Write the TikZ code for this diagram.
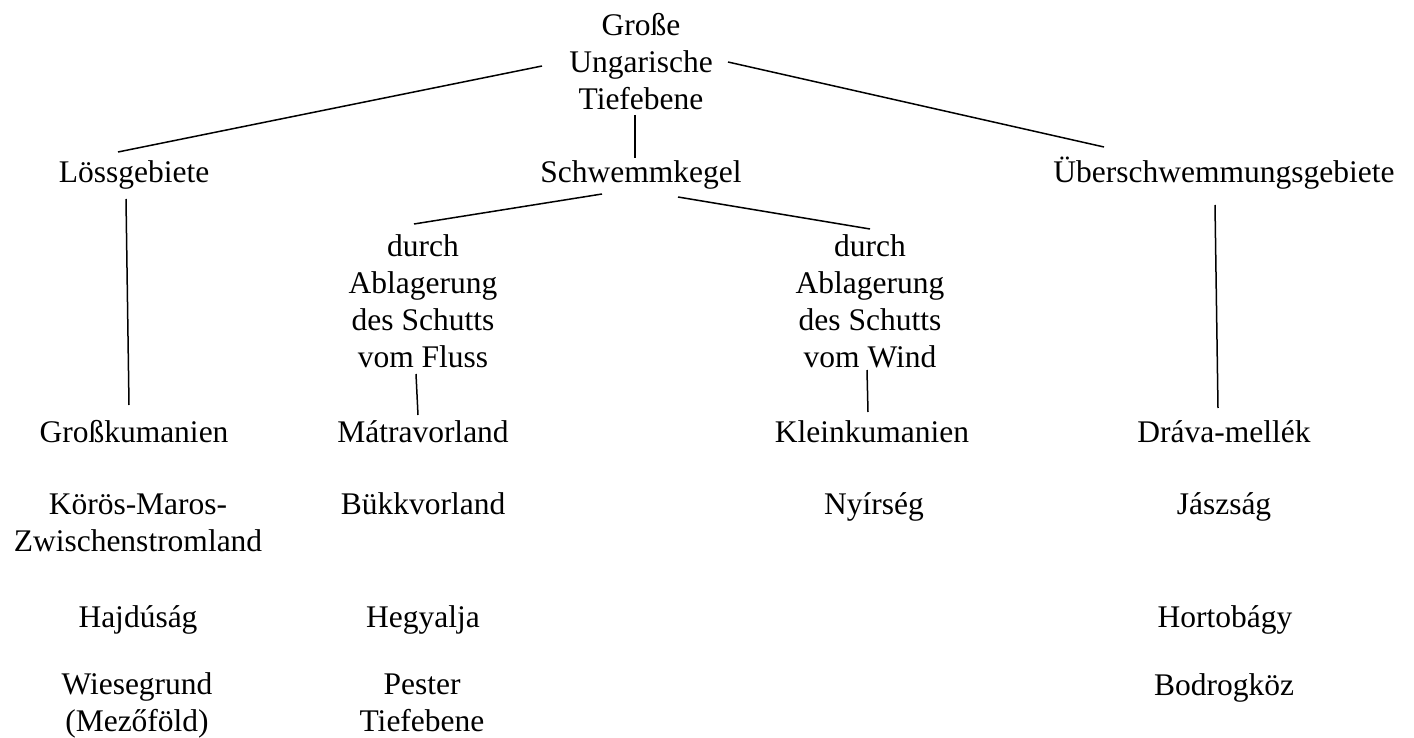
\documentclass[tikz,border=0pt]{standalone}
\usepackage{fontspec}
\setmainfont{Liberation Serif}

\begin{document}
\begin{tikzpicture}[x=1pt, y=-1pt,
    place/.style={anchor=base, inner sep=0pt, align=center,
      font=\fontsize{31.5}{37}\selectfont},
    link/.style={line width=1.5pt}]
    \useasboundingbox (0,0) rectangle (1414,738);

    % upper levels (base = last line)
    \node [place] (top) at (641,110) {Große\\Ungarische\\Tiefebene};
    \node [place] (loess) at (134,183) {Lössgebiete};
    \node [place] (schwemm) at (641,183) {Schwemmkegel};
    \node [place] (ueber) at (1224,183) {Überschwemmungsgebiete};

    \node [place] (fluss) at (423,367) {durch\\Ablagerung\\des Schutts\\vom Fluss};
    \node [place] (wind) at (870,367) {durch\\Ablagerung\\des Schutts\\vom Wind};

    % regions
    \node [place] (gross) at (134,442) {Großkumanien};
    \node [place] (koeroes) at (138,551) {Körös-Maros-\\Zwischenstromland};
    \node [place] (hajdu) at (138,627) {Hajdúság};
    \node [place] (wiese) at (137,731) {Wiesegrund\\(Mezőföld)};

    \node [place] (matra) at (423,442) {Mátravorland};
    \node [place] (buekk) at (423,514) {Bükkvorland};
    \node [place] (hegy) at (423,627) {Hegyalja};
    \node [place] (pester) at (422,731) {Pester\\Tiefebene};

    \node [place] (klein) at (872,442) {Kleinkumanien};
    \node [place] (nyir) at (874,514) {Nyírség};

    \node [place] (drava) at (1224,442) {Dráva-mellék};
    \node [place] (jasz) at (1224,514) {Jászság};
    \node [place] (horto) at (1225,627) {Hortobágy};
    \node [place] (bodrog) at (1224,695) {Bodrogköz};

    \draw [link] ([shift={(-99,-44)}]top.base) -- ([shift={(-16,-31)}]loess.base);
    \draw [link] ([shift={(87,-48)}]top.base) -- ([shift={(-120,-36)}]ueber.base);
    \draw [link] ([shift={(-6,5)}]top.base) -- ([shift={(-6,-25)}]schwemm.base);

    \draw [link] ([shift={(-39,11)}]schwemm.base) -- ([shift={(-9,-143)}]fluss.base);
    \draw [link] ([shift={(37,14)}]schwemm.base) -- ([shift={(0,-138)}]wind.base);

    \draw [link] ([shift={(-8,16)}]loess.base) -- ([shift={(-5,-37)}]gross.base);
    \draw [link] ([shift={(-7,7)}]fluss.base) -- ([shift={(-5,-27)}]matra.base);
    \draw [link] ([shift={(-3,3)}]wind.base) -- ([shift={(-4,-30)}]klein.base);
    \draw [link] ([shift={(-9,22)}]ueber.base) -- ([shift={(-6,-34)}]drava.base);
\end{tikzpicture}
\end{document}
